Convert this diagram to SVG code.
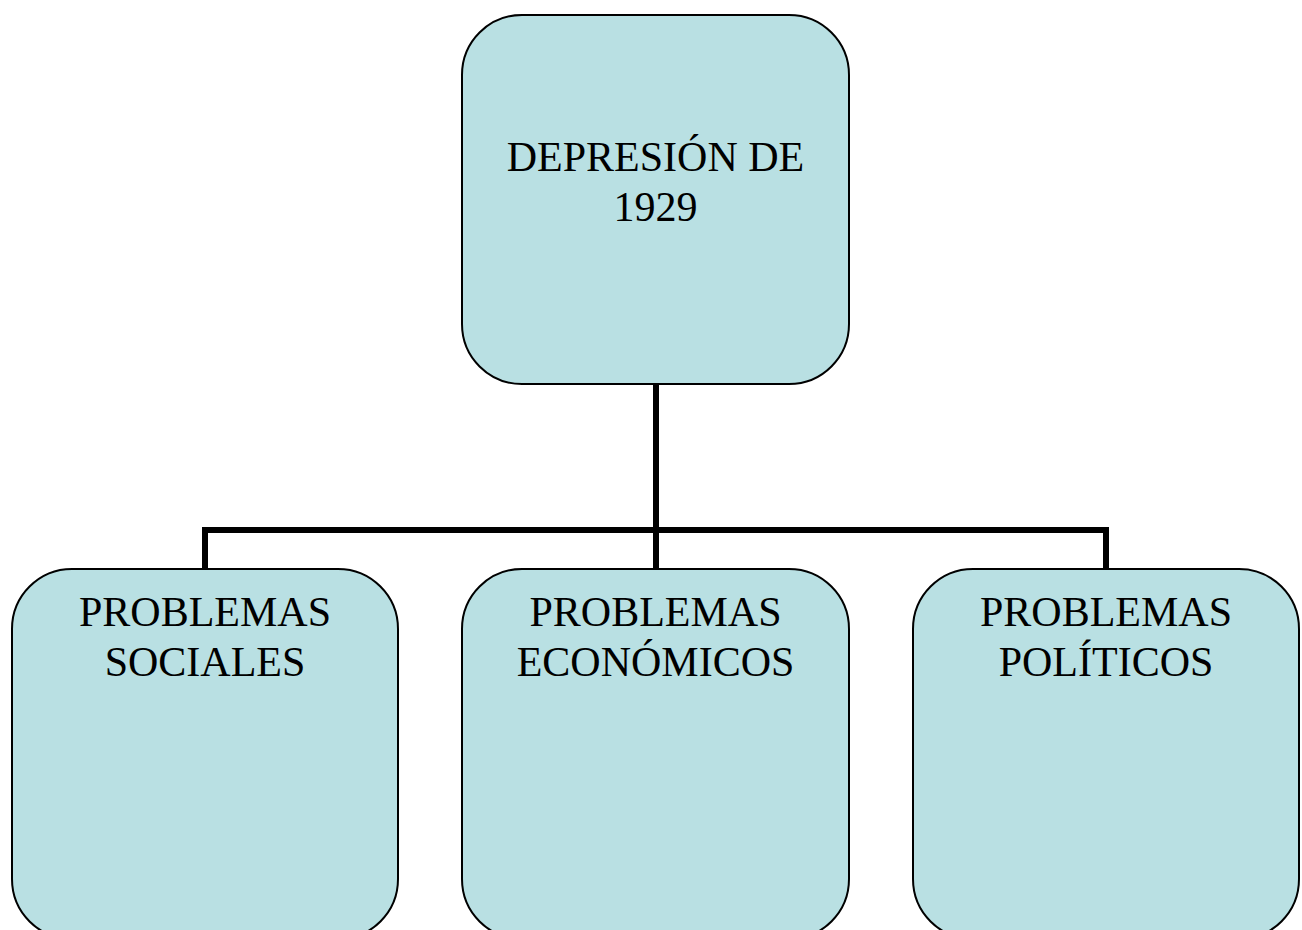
<svg xmlns="http://www.w3.org/2000/svg" width="1302" height="930" viewBox="0 0 1302 930">
<style>
.box{fill:#B9E0E3;stroke:#000;stroke-width:2}
.lbl{font-family:"Liberation Serif","Times New Roman",serif;font-size:42px;fill:#000;text-anchor:middle}
.conn{fill:none;stroke:#000;stroke-width:6}
</style>
<rect width="1302" height="930" fill="#fff"/>
<g id="connectors">
<path class="conn" d="M656 384V530M205 569V530H1106V569M656 530V569"/>
</g>
<g id="node-depresion">
<rect class="box" x="462" y="15" width="387" height="369" rx="60" ry="60"/>
<text class="lbl" x="655.5" y="171">DEPRESIÓN DE</text>
<text class="lbl" x="655.5" y="221">1929</text>
</g>
<g id="node-sociales">
<rect class="box" x="12" y="569" width="386" height="370" rx="60" ry="60"/>
<text class="lbl" x="205" y="626">PROBLEMAS</text>
<text class="lbl" x="205" y="676">SOCIALES</text>
</g>
<g id="node-economicos">
<rect class="box" x="462" y="569" width="387" height="370" rx="60" ry="60"/>
<text class="lbl" x="655.5" y="626">PROBLEMAS</text>
<text class="lbl" x="655.5" y="676">ECONÓMICOS</text>
</g>
<g id="node-politicos">
<rect class="box" x="913" y="569" width="386" height="370" rx="60" ry="60"/>
<text class="lbl" x="1106" y="626">PROBLEMAS</text>
<text class="lbl" x="1106" y="676">POLÍTICOS</text>
</g>
</svg>
